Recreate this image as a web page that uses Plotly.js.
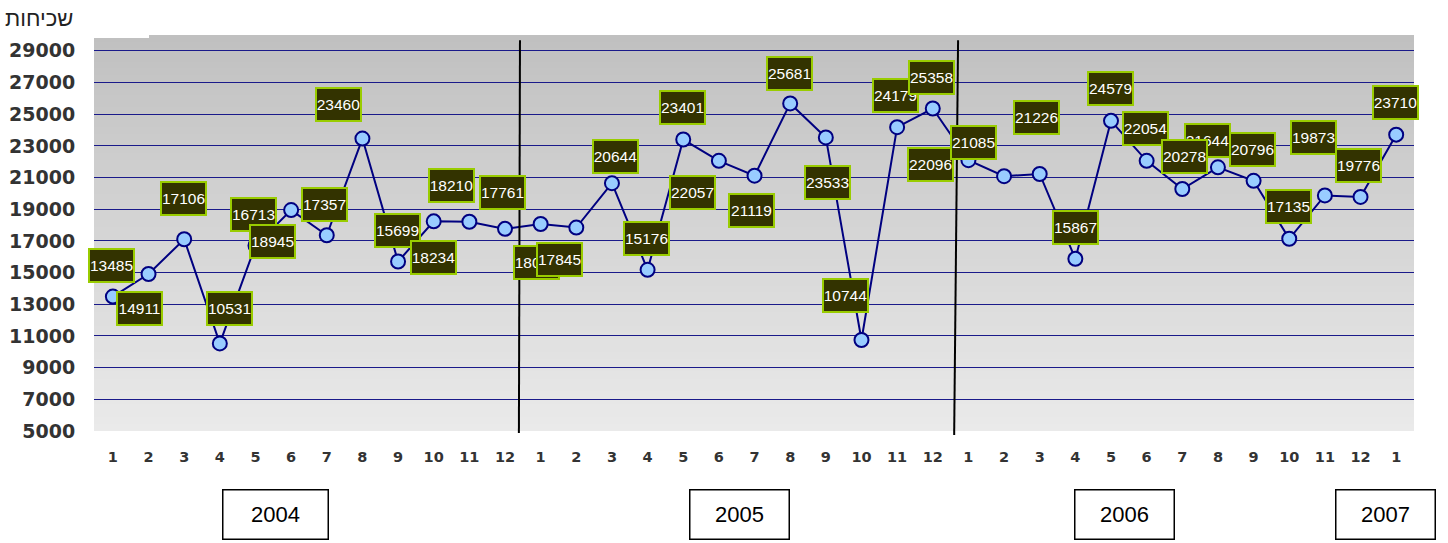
<!DOCTYPE html>
<html>
<head>
<meta charset="utf-8">
<script src="https://cdn.plot.ly/plotly-3.0.1.min.js"></script>
<style>
  html, body { margin: 0; padding: 0; background: #ffffff; }
  #chart { width: 1448px; height: 543px; }
</style>
</head>
<body>
<div id="chart"></div>
<script>
// ---- data ----
const monthLabels = ['1','2','3','4','5','6','7','8','9','10','11','12',
                     '1','2','3','4','5','6','7','8','9','10','11','12',
                     '1','2','3','4','5','6','7','8','9','10','11','12',
                     '1'];
const counts = [13485, 14911, 17106, 10531, 16713, 18945, 17357, 23460, 15699, 18234, 18210, 17761,
                18070, 17845, 20644, 15176, 23401, 22057, 21119, 25681, 23533, 10744, 24179, 25358,
                22096, 21085, 21226, 15867, 24579, 22054, 20278, 21644, 20796, 17135, 19873, 19776,
                23710];
const years = ['2004', '2005', '2006', '2007'];
const yAxisTitle = 'שכיחות';

// ---- layout helpers (positions / styles, not data) ----
// pixel offsets [dx, dy(screen, + = down)] of each data label from its point
const labelOffsets = [
  [-1,-31],[-9,34],[-1,-41],[10,-35],[-2,-31],[-19,31],[-2,-31],[-24,-34],[-1,-31],[0,36],[-18,-36],[-3,-36],
  [-4,39],[-17,32],[4,-27],[-1,-31],[-1,-32],[-26,32],[-3,35],[-1,-30],[2,45],[-16,-45],[-2,-32],[-1,-31],
  [-38,4],[-31,-34],[-3,-56],[0,-31],[-1,-32],[-1,-32],[2,-33],[-10,-27],[-1,-31],[-1,-32],[-11,-58],[-2,-31],
  [-1,-32]
];
const drawOrder = [0,1,2,3,4,5,6,7,8,9,10,11,12,13,14,15,16,17,18,19,20,21,22,23,24,25,26,27,28,29,31,30,32,33,34,35,36];
const yearBoxX = [4.55, 17.59, 28.37, 35.69];
const yearBoxW = [104, 98, 98, 98];

const xs = counts.map((_, i) => i);

const trace = {
  type: 'scatter',
  mode: 'lines+markers',
  x: xs,
  y: counts,
  line: { color: '#000080', width: 2 },
  marker: { size: 14, color: '#99ccff', line: { color: '#000080', width: 2 } },
  hoverinfo: 'y',
  showlegend: false
};

// gradient background bands
const shapes = [];
const nBands = 60;
const cTop = [192, 192, 192], cBot = [234, 234, 234];
for (let b = 0; b < nBands; b++) {
  const t = (b + 0.5) / nBands; // 0 bottom -> 1 top
  const c = cBot.map((v, k) => Math.round(v + (cTop[k] - v) * t));
  shapes.push({
    type: 'rect', xref: 'paper', yref: 'paper', layer: 'below',
    x0: 0, x1: 1, y0: b / nBands, y1: Math.min(1, (b + 1) / nBands + 0.002),
    fillcolor: 'rgb(' + c.join(',') + ')', line: { width: 0 }
  });
}
// small white notch at the top-left of the plot area
shapes.push({ type: 'rect', xref: 'paper', yref: 'paper', layer: 'below',
  x0: 0, x1: 55 / 1320, y0: 1 - 3 / 396, y1: 1, fillcolor: '#ffffff', line: { width: 0 } });
// year separator lines
shapes.push({ type: 'line', xref: 'x', yref: 'paper', layer: 'above',
  x0: 11.39, y0: -0.005, x1: 11.42, y1: 0.987, line: { color: '#000000', width: 2 } });
shapes.push({ type: 'line', xref: 'x', yref: 'paper', layer: 'above',
  x0: 23.60, y0: -0.01, x1: 23.71, y1: 0.987, line: { color: '#000000', width: 2 } });

const annotations = [];
drawOrder.forEach(i => {
  annotations.push({
    x: xs[i], y: counts[i], xref: 'x', yref: 'y',
    text: String(counts[i]),
    showarrow: false,
    xanchor: 'center', yanchor: 'middle',
    xshift: labelOffsets[i][0], yshift: -labelOffsets[i][1],
    width: 43, height: 31,
    bgcolor: '#333300', bordercolor: '#99cc00', borderwidth: 2, borderpad: 0,
    font: { family: 'Liberation Sans, Arial, sans-serif', size: 15.5, color: '#ffffff' }
  });
});
years.forEach((yr, k) => {
  annotations.push({
    x: yearBoxX[k], y: -0.211, xref: 'x', yref: 'paper',
    xanchor: 'center', yanchor: 'middle',
    text: yr, showarrow: false,
    width: yearBoxW[k], height: 48,
    bgcolor: '#ffffff', bordercolor: '#000000', borderwidth: 1.5, borderpad: 0,
    font: { family: 'Liberation Sans, Arial, sans-serif', size: 22, color: '#000000' }
  });
});
annotations.push({
  x: (39 - 94) / 1320, y: (431 - 19) / 396, xref: 'paper', yref: 'paper',
  text: yAxisTitle, showarrow: false, xanchor: 'center', yanchor: 'middle',
  font: { family: 'Liberation Sans, DejaVu Sans, sans-serif', size: 22, color: '#222222' }
});

const layout = {
  width: 1448, height: 543,
  margin: { l: 94, r: 34, t: 35, b: 112, pad: 0 },
  paper_bgcolor: '#ffffff',
  plot_bgcolor: 'rgba(0,0,0,0)',
  xaxis: {
    range: [-0.53, 36.5],
    tickmode: 'array', tickvals: xs, ticktext: monthLabels,
    showgrid: false, zeroline: false, showline: false,
    ticks: 'outside', ticklen: 13, tickcolor: 'rgba(0,0,0,0)',
    tickfont: { family: 'DejaVu Sans, Verdana, sans-serif', size: 14.5, color: '#333333', weight: 'bold' }
  },
  yaxis: {
    range: [5000, 30000],
    tick0: 5000, dtick: 2000, tickformat: 'd',
    showgrid: true, gridcolor: '#1a1a8a', gridwidth: 1,
    zeroline: false, showline: false,
    ticks: 'outside', ticklen: 14, tickcolor: 'rgba(0,0,0,0)',
    tickfont: { family: 'DejaVu Sans, Verdana, sans-serif', size: 19, color: '#333333', weight: 'bold' }
  },
  shapes: shapes,
  annotations: annotations,
  showlegend: false
};

Plotly.newPlot('chart', [trace], layout, { displayModeBar: false, staticPlot: true });
</script>
</body>
</html>
